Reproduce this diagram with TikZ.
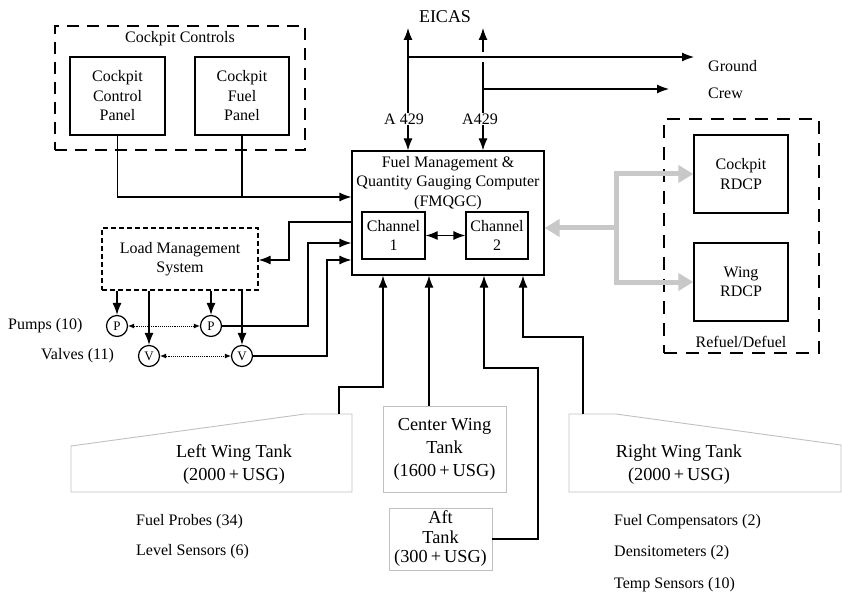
\documentclass[tikz,border=0pt]{standalone}
\usepackage{fontspec}
\setmainfont{Liberation Serif}
\usetikzlibrary{arrows.meta}
\definecolor{tankgray}{RGB}{192,192,192}
\definecolor{busgray}{RGB}{200,200,200}
\begin{document}
\begin{tikzpicture}[x=1pt,y=-1pt,
  every node/.style={font=\fontsize{16}{19.5}\selectfont, inner sep=0pt},
  blk/.style={draw, line width=1.2pt, align=center},
  dbox/.style={draw, line width=1.2pt, dash pattern=on 12pt off 8pt},
  pv/.style={circle, draw, line width=1.2pt, minimum size=21pt, font=\fontsize{13}{13}\selectfont},
  conn/.style={line width=1.2pt},
  arr/.style={conn, -{Latex[length=12pt,width=9pt]}},
  darr/.style={conn, {Latex[length=12pt,width=9pt]}-{Latex[length=12pt,width=9pt]}},
  dotarr/.style={line width=0.9pt, densely dotted, {Latex[length=6pt,width=5pt]}-{Latex[length=6pt,width=5pt]}},
  gbus/.style={draw=busgray, line width=5pt},
  garr/.style={gbus, -{Triangle[length=15pt,width=17pt]}},
  tank/.style={draw=tankgray, line width=0.9pt},
  tfont/.style={font=\fontsize{18.3}{23}\selectfont, align=center},
  lbl/.style={anchor=west}
]
\useasboundingbox (0,0) rectangle (842,593);

% Cockpit controls
\node[dbox, minimum width=250pt, minimum height=124pt] (cc) at (180,88) {};
\node (cct) at (180,39) {Cockpit Controls};
\node[blk, minimum width=95pt, minimum height=78pt] (ccp) at (117.5,96) {Cockpit\\Control\\Panel};
\node[blk, minimum width=94pt, minimum height=78pt] (cfp) at (242,96) {Cockpit\\Fuel\\Panel};

% FMQGC
\node[blk, minimum width=192pt, minimum height=124pt] (fm) at (448,213) {};
\node[align=center] (fmt) at (448,183) {Fuel Management \&\\Quantity Gauging Computer\\(FMQGC)};
\node[blk, minimum width=63pt, minimum height=47pt] (ch1) at (393.5,235.5) {Channel\\1};
\node[blk, minimum width=62pt, minimum height=47pt] (ch2) at (497,235.5) {Channel\\2};
\draw[darr] (ch1) -- (ch2);

% Load management
\node[draw, line width=1.2pt, dash pattern=on 5pt off 3pt, minimum width=156pt, minimum height=62pt, align=center] (lms) at (180,259) {Load Management\\System};
\node[pv] (p1) at (117,326) {P};
\node[pv] (p2) at (211,326) {P};
\node[pv] (v1) at (149,356) {V};
\node[pv] (v2) at (242,356) {V};
\node[lbl] (pumps) at (8,326) {Pumps (10)};
\node[lbl] (valves) at (41,356) {Valves (11)};
\draw[arr] (lms.south -| p1) -- (p1);
\draw[arr] (lms.south -| v1) -- (v1);
\draw[arr] (lms.south -| p2) -- (p2);
\draw[arr] (lms.south -| v2) -- (v2);
\draw[dotarr] (p1) -- (p2);
\draw[dotarr] (v1) -- (v2);

% connections into FMQGC from left
\coordinate (y197) at (0,197);
\draw[arr] (ccp.south) |- (fm.west |- y197);
\draw[conn] (cfp.south) -- (cfp.south |- y197);
\coordinate (k1) at (289,222);
\coordinate (k2) at (289,260);
\draw[arr] (fm.west |- k1) -- (k1) -- (k2) -- (lms.east |- k2);
\coordinate (k3) at (308,243);
\draw[arr] (p2.east) -| (k3) -- (fm.west |- k3);
\coordinate (k4) at (327,260);
\draw[arr] (v2.east) -| (k4) -- (fm.west |- k4);

% EICAS and ground crew
\node[font=\fontsize{18}{20}\selectfont] (eicas) at (445,17) {EICAS};
\coordinate (eL) at (408,28);
\coordinate (eR) at (483,28);
\draw[darr] (eL) -- (eL |- fm.north);
\draw[darr] (eR) -- (eR |- fm.north);
\draw[white, line width=10pt] (480,57) -- (486,57);
\coordinate (j1) at (408,57);
\coordinate (gc1) at (694,57);
\draw[arr] (j1) -- (gc1);
\coordinate (j2) at (483,89);
\coordinate (gc2) at (669,89);
\draw[arr] (j2) -- (gc2);
\node[fill=white, inner sep=1pt] (a1) at (404,119) {A 429};
\node[fill=white, inner sep=1pt] (a2) at (480,119) {A429};
\node[lbl] (gr) at (708,66) {Ground};
\node[lbl] (cr) at (708,93) {Crew};

% Refuel / Defuel
\node[draw, line width=1.2pt, dash pattern=on 13pt off 9pt, minimum width=155pt, minimum height=234pt] (rf) at (741.5,236) {};
\node (rft) at (741,342) {Refuel/Defuel};
\node[blk, minimum width=94pt, minimum height=78pt] (crd) at (741,174) {Cockpit\\RDCP};
\node[blk, minimum width=94pt, minimum height=78pt] (wrd) at (741,282) {Wing\\RDCP};
\coordinate (gv1) at (616,174);
\coordinate (gv2) at (616,282);
\coordinate (gm) at (616,228);
\draw[gbus, line cap=rect] (gv1) -- (gv2);
\draw[garr] (gm) -- (fm.east |- gm);
\draw[garr] (gv1) -- (crd.west);
\draw[garr] (gv2) -- (wrd.west);

% Tanks
\draw[tank] (71,492) -- (71,446) -- (305,414) -- (352,414) -- (352,492) -- cycle;
\node[tfont] (lwt) at (234,465) {Left Wing Tank\\(2000\,+\,USG)};
\node[tank, tfont, minimum width=123pt, minimum height=86pt] (cwt) at (444.5,449) {Center Wing\\Tank\\(1600\,+\,USG)};
\node[tank, tfont, font=\fontsize{18.3}{19.5}\selectfont, minimum width=103pt, minimum height=62pt] (aft) at (440.5,539) {Aft\\Tank\\(300\,+\,USG)};
\draw[tank] (569,492) -- (569,414) -- (616,414) -- (841,445) -- (841,492) -- cycle;
\node[tfont] (rwt) at (679,465) {Right Wing Tank\\(2000\,+\,USG)};

% Tank connectors
\coordinate (lwtop) at (339,414);
\coordinate (b1) at (383,387);
\draw[arr] (lwtop) |- (b1) -- (b1 |- fm.south);
\coordinate (b2) at (429,406);
\draw[arr] (cwt.north -| b2) -- (b2 |- fm.south);
\coordinate (b3) at (538,368);
\coordinate (b3x) at (484,368);
\draw[arr] (aft.east) -| (b3) -- (b3x) -- (b3x |- fm.south);
\coordinate (rwtop) at (583,414);
\coordinate (b4) at (523,337);
\draw[arr] (rwtop) |- (b4) -- (b4 |- fm.south);

% Sensor lists
\node[lbl] (fp) at (136,522) {Fuel Probes (34)};
\node[lbl] (ls) at (136,552) {Level Sensors (6)};
\node[lbl] (fc) at (614,522) {Fuel Compensators (2)};
\node[lbl] (dm) at (614,553) {Densitometers (2)};
\node[lbl] (ts) at (614,585) {Temp Sensors (10)};
\end{tikzpicture}
\end{document}
